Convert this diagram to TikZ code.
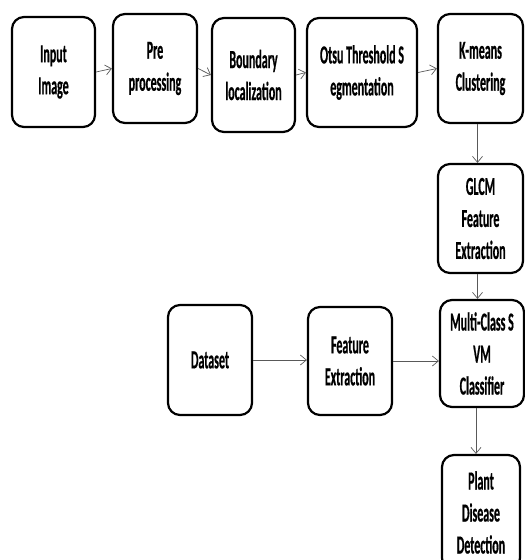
\documentclass[tikz,border=0pt]{standalone}
\usepackage{fontspec}
\newfontfamily\boxfont[FakeStretch=0.46,FakeBold=0.5]{Carlito}
\usetikzlibrary{arrows.meta,positioning}
\tikzset{
  box/.style={draw=black, line width=2.2pt, rounded corners=12pt, align=center,
    inner sep=0pt, font=\boxfont\bfseries\fontsize{26}{32}\selectfont},
  conn/.style={draw=black!65, line width=0.7pt, -{Straight Barb[length=6pt,width=10pt,line width=0.7pt]}}
}
\newcommand{\bx}[6]{% name, x1,y1,x2,y2, text
  \node[box, minimum width={#4pt-#2pt}, minimum height={#5pt-#3pt}] (#1) at ({(#2pt+#4pt)/2},{-(#3pt+#5pt)/2}) {#6};}
\begin{document}
\begin{tikzpicture}[x=1pt,y=1pt]
\useasboundingbox (0,0) rectangle (525,-560);
\bx{inp}{12}{17}{95}{127}{Input\\Image}
\bx{pre}{113}{14}{197}{123}{Pre\\processing}
\bx{bnd}{212}{18}{295}{132}{Boundary\\localization}
\bx{otsu}{307}{18}{417}{127}{Otsu Threshold S\\egmentation}
\bx{km}{438}{14}{523}{123}{K-means\\Clustering}
\bx{glcm}{438}{164}{523}{273}{GLCM\\Feature\\Extraction}
\bx{svm}{440}{300}{524}{407}{Multi-Class S\\VM\\Classifier}
\bx{ds}{168}{305}{252}{415}{Dataset}
\bx{fe}{308}{307}{392}{415}{Feature\\Extraction}
\bx{pd}{442}{455}{520}{570}{Plant\\Disease\\Detection}
\draw[conn] (inp.east) -- (pre.east -| pre.west);
\draw[conn] (pre.east) -- (bnd.west);
\draw[conn] (bnd.east) -- (otsu.west);
\draw[conn] (otsu.east) -- (km.west);
\draw[conn] ([xshift=-3pt]km.south) -- ([xshift=-3pt]km.south |- glcm.north);
\draw[conn] ([xshift=-3pt]glcm.south) -- ([xshift=-3pt]glcm.south |- svm.north);
\draw[conn] (ds.east) -- (ds.east -| fe.west);
\draw[conn] (fe.east) -- (fe.east -| svm.west);
\draw[conn] ([xshift=-6pt]svm.south) -- ([xshift=-6pt]svm.south |- pd.north);
\end{tikzpicture}
\end{document}
